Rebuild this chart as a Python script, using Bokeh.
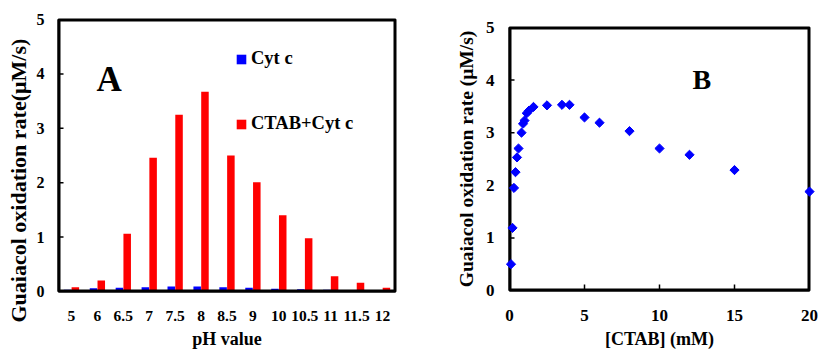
import math
from bokeh.plotting import figure
from bokeh.layouts import row
from bokeh.models import (ColumnDataSource, Legend, LegendItem, Label, FixedTicker,
                          Range1d, Title, BoxAnnotation)
from bokeh.transform import dodge
from bokeh.embed import file_html
from bokeh.resources import INLINE

# ---------------- data ----------------
ph_labels = ["5", "6", "6.5", "7", "7.5", "8", "8.5", "9", "10", "10.5", "11", "11.5", "12"]
cyt_c = [0.03, 0.06, 0.07, 0.08, 0.09, 0.09, 0.08, 0.07, 0.05, 0.04, 0.03, 0.02, 0.02]
ctab_cyt_c = [0.08, 0.20, 1.06, 2.46, 3.25, 3.67, 2.50, 2.01, 1.40, 0.98, 0.28, 0.16, 0.07]

ctab_mM = [0.1, 0.2, 0.3, 0.4, 0.5, 0.6, 0.8, 0.9, 1.0, 1.15, 1.3, 1.6, 2.5, 3.5, 4.0,
           5, 6, 8, 10, 12, 15, 20]
rate_b = [0.50, 1.19, 1.95, 2.25, 2.53, 2.70, 3.00, 3.17, 3.23, 3.37, 3.42, 3.49, 3.52,
          3.53, 3.53, 3.29, 3.19, 3.03, 2.70, 2.58, 2.29, 1.88]

y_ticks = [0, 1, 2, 3, 4, 5]
x_ticks_b = [0, 5, 10, 15, 20]

FONT = "Liberation Serif"
SCR = dict(width_units="screen", height_units="screen", fill_color="black", line_color=None)

# layout (pixels)
A_W, A_H, A_L, A_R, A_T, A_B = 410, 351, 58, 15, 19, 57
B_W, B_H, B_L, B_R, B_T, B_B = 408, 351, 99, 9, 27, 59


def style_axes(p, xa, ya):
    p.xgrid.grid_line_color = None
    p.ygrid.grid_line_color = None
    p.outline_line_color = "black"
    p.outline_line_width = 2
    p.outline_line_alpha = 1.0
    if "frame_align" in p.properties():
        p.frame_align = False
    for a in (xa, ya):
        a.axis_line_color = "black"
        a.axis_line_width = 2
        a.major_tick_line_color = "black"
        a.major_tick_line_width = 1.5
        a.major_tick_in = 0
        a.major_tick_out = 0
        a.minor_tick_line_color = None
        a.major_label_text_font = FONT
        a.major_label_text_font_style = "bold"
        a.major_label_text_color = "black"
        a.major_label_text_line_height = 0.9
        a.axis_label_text_font = FONT
        a.axis_label_text_font_style = "bold"
        a.axis_label_text_color = "black"
        a.axis_label_text_line_height = 0.9


def box(p, **kw):
    p.add_layout(BoxAnnotation(fill_color="black", fill_alpha=1.0, line_color=None, **kw))


# ---------------- panel A ----------------
pos = list(range(len(ph_labels)))
xA0, xA1 = pos[0] - 0.5, pos[-1] + 0.5
yA0, yA1 = y_ticks[0], y_ticks[-1]

pA = figure(width=A_W, height=A_H, x_range=Range1d(xA0, xA1), y_range=Range1d(yA0, yA1),
            output_backend="svg", toolbar_location=None,
            min_border_left=A_L, min_border_right=A_R, min_border_top=A_T, min_border_bottom=A_B)
style_axes(pA, pA.xaxis[0], pA.yaxis[0])

srcA = ColumnDataSource(dict(i=pos, cyt=cyt_c, ctab=ctab_cyt_c))
rb = pA.vbar(x=dodge("i", -0.15), top="cyt", width=0.29, source=srcA,
             fill_color="#0000FF", line_color=None)
rr = pA.vbar(x=dodge("i", 0.15), top="ctab", width=0.29, source=srcA,
             fill_color="#FF0000", line_color=None)

# frame border and inner y ticks of A as filled boxes (pixel sizes -> data units)
pxA = (xA1 - xA0) / (A_W - A_L - A_R)
pyA = (yA1 - yA0) / (A_H - A_T - A_B)
box(pA, left=xA0, right=xA0 + 2 * pxA)
box(pA, left=xA1 - 2 * pxA, right=xA1)
box(pA, bottom=yA0, top=yA0 + 2 * pyA)
box(pA, bottom=yA1 - 2 * pyA, top=yA1)
for t in y_ticks[1:5]:
    box(pA, left=xA0, right=xA0 + 5 * pxA, bottom=t - 0.75 * pyA, top=t + 0.75 * pyA)

pA.yaxis.ticker = FixedTicker(ticks=y_ticks)
pA.yaxis.major_label_standoff = 14
pA.yaxis.major_label_text_font_size = "16px"

pA.xaxis.ticker = FixedTicker(ticks=pos)
pA.xaxis.major_label_overrides = {i: lab for i, lab in zip(pos, ph_labels)}
pA.xaxis.major_tick_line_color = None
pA.xaxis.major_label_standoff = 19
pA.xaxis.major_label_text_font_size = "15.5px"
pA.xaxis.axis_label = "pH value"
pA.xaxis.axis_label_text_font_size = "18px"
pA.xaxis.axis_label_standoff = 5

legA = Legend(items=[LegendItem(label="Cyt c", renderers=[rb]),
                     LegendItem(label="CTAB+Cyt c", renderers=[rr])],
              location=(177, 157), orientation="vertical", padding=0, margin=0,
              spacing=44, glyph_width=12, glyph_height=12, label_height=12,
              label_standoff=4, border_line_color=None, background_fill_alpha=0,
              label_text_font=FONT, label_text_font_style="bold",
              label_text_font_size="18.5px", label_text_color="black")
pA.add_layout(legA)

pA.add_layout(Label(x=38, y=212, x_units="screen", y_units="screen", text="A",
                    text_font=FONT, text_font_style="bold", text_font_size="35px",
                    text_baseline="middle", text_color="black"))
pA.add_layout(Title(text="Guaiacol oxidation rate(μM/s)", align="left", offset=-31,
                    standoff=6, text_font=FONT, text_font_style="bold",
                    text_font_size="22px", text_color="black"), "left")

# ---------------- panel B ----------------
pB = figure(width=B_W, height=B_H, x_range=Range1d(0, 20), y_range=Range1d(0, 5),
            output_backend="svg", toolbar_location=None,
            min_border_left=B_L, min_border_right=B_R, min_border_top=B_T, min_border_bottom=B_B)
style_axes(pB, pB.xaxis[0], pB.yaxis[0])

xB0, xB1 = x_ticks_b[0], x_ticks_b[-1]
yB0, yB1 = y_ticks[0], y_ticks[-1]
pB.rect(x=[(xB0 + xB1) / 2] * 2, y=[yB0, yB1], width=4000, height=4, **SCR)
pB.rect(x=[xB0, xB1], y=[(yB0 + yB1) / 2] * 2, width=4, height=4000, **SCR)
pB.rect(x=[xB0] * 4, y=y_ticks[1:5], width=10, height=1.5, **SCR)
pB.rect(x=x_ticks_b[1:4], y=[yB0] * 3, width=1.5, height=12, **SCR)

srcB = ColumnDataSource(dict(x=ctab_mM, y=rate_b))
pB.scatter(x="x", y="y", source=srcB, marker="square", angle=math.pi / 4, size=6.5,
           fill_color="#0000FF", line_color="#0000FF", level="overlay")

pB.yaxis.ticker = FixedTicker(ticks=y_ticks)
pB.yaxis.major_label_standoff = 15
pB.yaxis.major_label_text_font_size = "17px"
pB.yaxis.axis_label = "Guaiacol oxidation rate (μM/s)"
pB.yaxis.axis_label_text_font_size = "19.5px"
pB.yaxis.axis_label_standoff = 6

pB.xaxis.ticker = FixedTicker(ticks=x_ticks_b)
pB.xaxis.major_label_standoff = 19
pB.xaxis.major_label_text_font_size = "17px"
pB.xaxis.axis_label = "[CTAB] (mM)"
pB.xaxis.axis_label_text_font_size = "18px"
pB.xaxis.axis_label_standoff = 5

pB.add_layout(Label(x=183, y=211, x_units="screen", y_units="screen", text="B",
                    text_font=FONT, text_font_style="bold", text_font_size="28px",
                    text_baseline="middle", text_color="black"))

layout = row(pA, pB)
open("out.html", "w").write(file_html(layout, INLINE))
